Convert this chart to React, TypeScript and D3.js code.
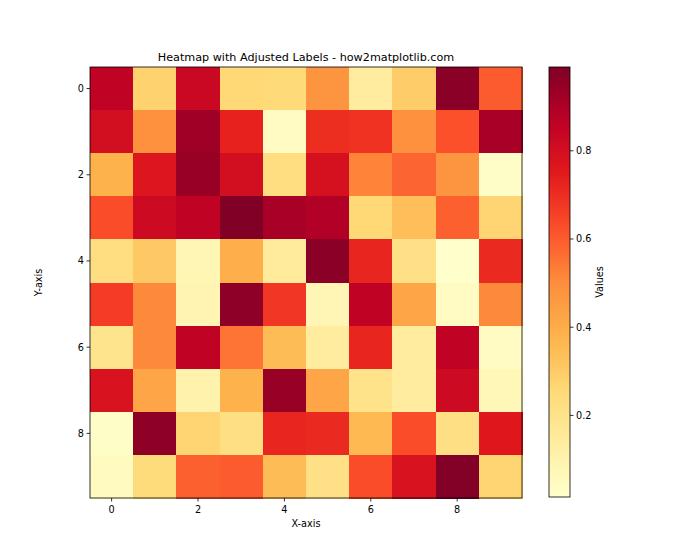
import React from 'react';
import * as d3 from 'd3';

const rowLabels = [0, 1, 2, 3, 4, 5, 6, 7, 8, 9];
const colLabels = [0, 1, 2, 3, 4, 5, 6, 7, 8, 9];
const values: number[][] = [
  [0.86, 0.28, 0.83, 0.26, 0.25, 0.48, 0.14, 0.30, 0.97, 0.60],
  [0.80, 0.49, 0.93, 0.73, 0.04, 0.70, 0.69, 0.49, 0.62, 0.91],
  [0.38, 0.77, 0.94, 0.80, 0.23, 0.79, 0.52, 0.58, 0.48, 0.03],
  [0.63, 0.82, 0.86, 0.99, 0.91, 0.89, 0.26, 0.34, 0.59, 0.27],
  [0.23, 0.31, 0.08, 0.39, 0.15, 0.97, 0.72, 0.21, 0.015, 0.71],
  [0.67, 0.51, 0.09, 0.96, 0.68, 0.08, 0.86, 0.42, 0.04, 0.51],
  [0.19, 0.51, 0.86, 0.55, 0.35, 0.14, 0.72, 0.14, 0.86, 0.04],
  [0.78, 0.42, 0.10, 0.38, 0.94, 0.42, 0.20, 0.14, 0.82, 0.07],
  [0.03, 0.96, 0.27, 0.22, 0.72, 0.71, 0.36, 0.63, 0.22, 0.76],
  [0.05, 0.24, 0.59, 0.60, 0.35, 0.21, 0.63, 0.78, 0.985, 0.27],
];
const xTicks = [0, 2, 4, 6, 8];
const yTicks = [0, 2, 4, 6, 8];
const cbTicks = [0.2, 0.4, 0.6, 0.8];
const palette = ['#ffffcc', '#ffeda0', '#fed976', '#feb24c', '#fd8d3c', '#fc4e2a', '#e31a1c', '#bd0026', '#800026'];

const title = 'Heatmap with Adjusted Labels - how2matplotlib.com';
const xLabel = 'X-axis';
const yLabel = 'Y-axis';
const cbLabel = 'Values';

export default function App() {
  const W = 700, H = 560;
  const left = 90, right = 522, top = 67, bottom = 498;
  const x = d3.scaleLinear().domain([-0.5, 9.5]).range([left, right]);
  const y = d3.scaleLinear().domain([-0.5, 9.5]).range([top, bottom]);
  const flat = values.flat();
  const [vmin, vmax] = d3.extent(flat) as [number, number];
  const tScale = d3.scaleLinear().domain([vmin, vmax]).range([0, 1]).clamp(true);
  const cmap = d3.scaleLinear<string>()
    .domain(palette.map((_, i) => i / (palette.length - 1)))
    .range(palette)
    .interpolate(d3.interpolateRgb);
  const color = (v: number) => cmap(tScale(v));

  const cbL = 549, cbR = 570, cbTop = 67, cbBottom = 497;
  const cy = d3.scaleLinear().domain([vmin, vmax]).range([cbBottom, cbTop]);
  const stops = d3.range(0, 1.0001, 0.05);

  const font = 'DejaVu Sans, sans-serif';
  const cw = x(0.5) - x(-0.5);
  const ch = y(0.5) - y(-0.5);

  return (
    <svg width={W} height={H} style={{ position: 'absolute', left: 0, top: 0, background: '#fff' }} fontFamily={font}>
      <defs>
        <linearGradient id="cbgrad" x1="0" y1="1" x2="0" y2="0">
          {stops.map((s, i) => (
            <stop key={i} offset={s} stopColor={cmap(s)} />
          ))}
        </linearGradient>
      </defs>
      <rect width={W} height={H} fill="#fff" />
      {values.map((row, r) =>
        row.map((v, c) => (
          <rect
            key={`${r}-${c}`}
            x={x(colLabels[c] - 0.5)}
            y={y(rowLabels[r] - 0.5)}
            width={cw + 0.5}
            height={ch + 0.5}
            fill={color(v)}
            shapeRendering="crispEdges"
          />
        ))
      )}
      <rect x={left} y={top} width={right - left} height={bottom - top} fill="none" stroke="#000" strokeWidth={0.8} />
      {xTicks.map(t => (
        <g key={`x${t}`}>
          <line x1={x(t)} x2={x(t)} y1={bottom} y2={bottom + 3.5} stroke="#000" strokeWidth={0.8} />
          <text x={x(t)} y={bottom + 15} textAnchor="middle" fontSize={9.7} fill="#000">{t}</text>
        </g>
      ))}
      {yTicks.map(t => (
        <g key={`y${t}`}>
          <line x1={left - 3.5} x2={left} y1={y(t)} y2={y(t)} stroke="#000" strokeWidth={0.8} />
          <text x={left - 6} y={y(t)} dy="0.35em" textAnchor="end" fontSize={9.7} fill="#000">{t}</text>
        </g>
      ))}
      <text x={(left + right) / 2} y={bottom + 29} textAnchor="middle" fontSize={9.7} fill="#000">{xLabel}</text>
      <text transform={`translate(42,${(top + bottom) / 2}) rotate(-90)`} textAnchor="middle" fontSize={9.7} fill="#000">{yLabel}</text>
      <text x={(left + right) / 2} y={top - 6} textAnchor="middle" fontSize={11.2} fill="#000">{title}</text>

      <rect x={cbL} y={cbTop} width={cbR - cbL} height={cbBottom - cbTop} fill="url(#cbgrad)" />
      <rect x={cbL} y={cbTop} width={cbR - cbL} height={cbBottom - cbTop} fill="none" stroke="#000" strokeWidth={0.8} />
      {cbTicks.map(t => (
        <g key={`c${t}`}>
          <line x1={cbR} x2={cbR + 3.5} y1={cy(t)} y2={cy(t)} stroke="#000" strokeWidth={0.8} />
          <text x={cbR + 6} y={cy(t)} dy="0.35em" textAnchor="start" fontSize={9.7} fill="#000">{t.toFixed(1)}</text>
        </g>
      ))}
      <text transform={`translate(603,${(cbTop + cbBottom) / 2}) rotate(-90)`} textAnchor="middle" fontSize={9.7} fill="#000">{cbLabel}</text>
    </svg>
  );
}
